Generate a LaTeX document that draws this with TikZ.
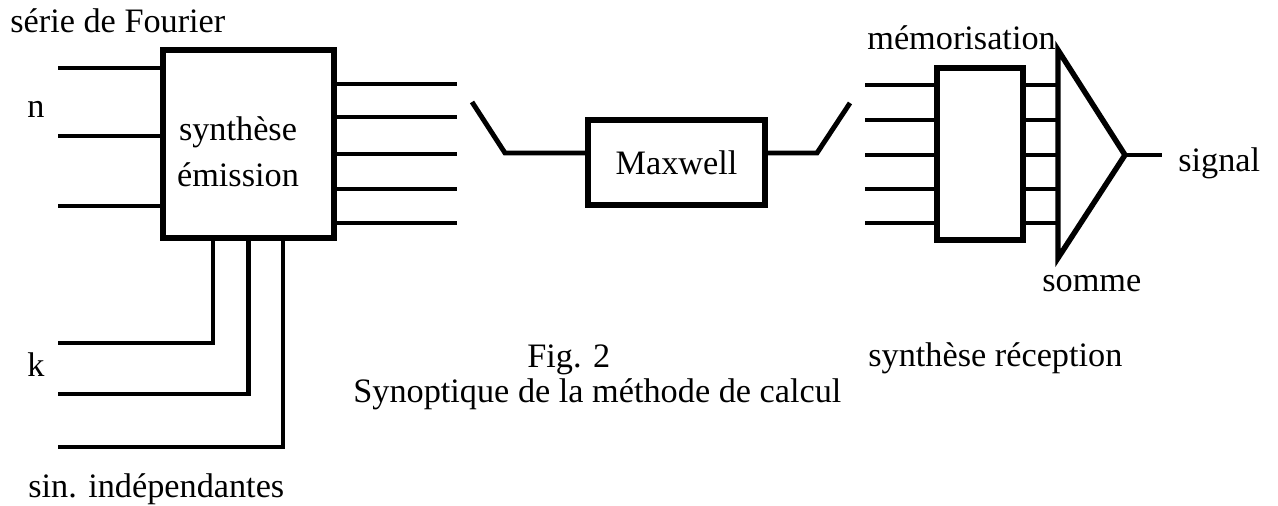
\documentclass[tikz,border=0pt]{standalone}
\usepackage{fontspec}
\setmainfont{Liberation Serif}
\usetikzlibrary{positioning}

\tikzset{
  bloc/.style={draw, line width=3.1pt, inner sep=0pt},
  fil/.style={line width=2.8pt},
  txt/.style={font=\fontsize{19.5}{26.7}\selectfont, inner sep=0pt, anchor=base west}
}

\begin{document}
\begin{tikzpicture}[x=0.02cm,y=-0.02cm]
\useasboundingbox (0,0) rectangle (1278,506);

% bloc synthese emission
\node[bloc, minimum width=3.42cm, minimum height=3.76cm] (emis) at (248.5,144) {};
\node[txt, anchor=base, align=center] (emistxt) at (238,187) {synthèse\\émission};

% entrees n
\foreach \y [count=\i] in {68,136,206}{
  \coordinate (n\i) at (58,\y);
  \draw[fil] (n\i) -- (n\i -| emis.west);
}
% entrees k
\foreach \dx/\y [count=\i] in {-0.71/343,0/394,0.69/447}{
  \coordinate (k\i) at (58,\y);
  \coordinate (kb\i) at ([xshift=\dx cm]emis.south);
  \draw[fil] (k\i) -| (kb\i);
}
% sorties emission
\foreach \y [count=\i] in {84,117,154,189,223}{
  \coordinate (e\i) at (457,\y);
  \draw[fil] (e\i -| emis.east) -- (e\i);
}

% Maxwell
\node[bloc, txt, anchor=center, minimum width=3.54cm, minimum height=1.7cm] (maxw) at (676.5,162.5) {Maxwell};
\coordinate (la) at (472,102);
\coordinate (lb) at (505,153);
\draw[fil] (la) -- (lb) -- (lb -| maxw.west);
\coordinate (ra) at (850,103);
\coordinate (rb) at (817,153);
\draw[fil] (maxw.east |- rb) -- (rb) -- (ra);

% memorisation + somme
\node[bloc, minimum width=1.72cm, minimum height=3.44cm] (memo) at (980,154) {};
\coordinate (s1) at (1058,50);
\coordinate (s2) at (1125,155);
\coordinate (s3) at (1058,258);
\foreach \y [count=\i] in {85,120,155,189,223}{
  \coordinate (m\i) at (865,\y);
  \draw[fil] (m\i) -- (m\i -| memo.west);
  \draw[fil] (m\i -| memo.east) -- (m\i -| s1);
}
\draw[bloc] (s1) -- (s2) -- (s3) -- cycle;
\coordinate (sig) at (1162,155);
\draw[fil] (s2) -- (sig);

% textes
\node[txt] (fourier) at (10,33) {série de Fourier};
\node[txt] (nlab) at (27,118) {n};
\node[txt] (klab) at (27,377) {k};
\node[txt] (sinlab) at (28,498) {sin. indépendantes};
\node[txt] (memolab) at (867,50) {mémorisation};
\node[txt] (sommelab) at (1042,292) {somme};
\node[txt] (siglab) at (1178,172) {signal};
\node[txt] (fig) at (527,368) {Fig. 2};
\node[txt] (recep) at (868,367) {synthèse réception};
\node[txt] (synop) at (353,402) {Synoptique de la méthode de calcul};
\end{tikzpicture}
\end{document}
